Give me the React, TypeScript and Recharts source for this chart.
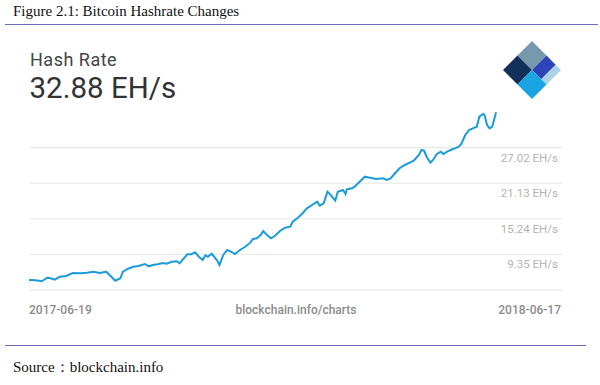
import React from "react";
import { CartesianGrid, Line, LineChart, XAxis, YAxis } from "recharts";

// Days since 2017-06-19 and hash rate (EH/s).
const days = [
  0, 5, 10, 14, 16, 20, 24, 29, 34, 40, 45, 50, 55, 60, 64, 67, 71, 73, 77, 81,
  85, 90, 93, 97, 100, 104, 107, 111, 115, 117, 123, 126, 129, 132, 135, 137, 139, 142, 146, 148,
  151, 154, 158, 160, 164, 168, 172, 174, 177, 180, 182, 185, 188, 191, 195, 199, 203, 205, 209, 213,
  216, 220, 224, 226, 229, 232, 234, 238, 240, 244, 246, 247, 251, 253, 257, 261, 265, 270, 275, 278,
  281, 284, 288, 292, 296, 299, 303, 305, 307, 309, 312, 314, 317, 320, 322, 325, 329, 331, 334, 336,
  339, 342, 345, 348, 350, 353, 354, 356, 358, 360, 363,
];
const hashRate = [
  5.11, 5.06, 4.9, 5.49, 5.45, 5.16, 5.66, 5.78, 6.27, 6.22, 6.32, 6.49, 6.27, 6.49, 5.66, 5.0, 5.4, 6.49, 6.98, 7.31,
  7.43, 7.76, 7.38, 7.65, 7.71, 7.93, 7.81, 8.14, 8.21, 7.88, 9.37, 9.37, 9.7, 8.97, 8.42, 9.2, 8.97, 9.47, 8.42, 7.6,
  9.25, 10.08, 9.7, 9.42, 10.08, 10.62, 11.29, 11.9, 12.01, 12.56, 13.22, 12.56, 12.01, 12.39, 13.22, 13.77, 13.93, 14.76, 15.42, 16.25,
  16.98, 17.52, 18.07, 17.41, 17.8, 19.72, 19.29, 18.23, 19.72, 20.01, 19.34, 20.12, 20.29, 20.55, 21.38, 22.21, 22.02, 21.83, 21.94, 21.66,
  21.94, 22.65, 23.6, 24.14, 24.52, 24.85, 25.8, 26.62, 26.51, 25.51, 24.52, 24.97, 25.96, 26.34, 25.96, 26.34, 26.74, 26.9, 27.17, 27.62,
  29.1, 29.93, 30.21, 30.48, 32.13, 32.58, 32.41, 30.76, 30.21, 30.48, 32.88,
];

const yTicks = [3.46, 9.35, 15.24, 21.13, 27.02];
const yMax = 32.91;
const xTicks = [0, 207.5, 415];
const xLabels = ["2017-06-19", "blockchain.info/charts", "2018-06-17"];

const data = days.map((d, i) => ({ day: d, rate: hashRate[i] }));

const chartFont = "Roboto, 'Noto Sans', sans-serif";
const serif = "'Liberation Serif', 'Times New Roman', serif";

function YTick(props: any) {
  const { x, y, payload } = props;
  if (payload.value === yTicks[0]) return <g />;
  return (
    <text x={x - 5} y={y + 14} textAnchor="end" fontSize={11.5} fill="#b3b3b3" fontFamily={chartFont}>
      {Number(payload.value).toFixed(2)} EH/s
    </text>
  );
}

function XTick(props: any) {
  const { x, y, index } = props;
  const last = index === xTicks.length - 1;
  const anchor = index === 0 ? "start" : last ? "end" : "middle";
  return (
    <text x={last ? x - 2 : x} y={y + 24} textAnchor={anchor} fontSize={12} fontWeight={500} fill="#8c8c8c" fontFamily={chartFont}>
      {xLabels[index]}
    </text>
  );
}

function Logo() {
  // blockchain diamond: a square cut in cells, turned 45 degrees
  return (
    <svg width={62} height={58} style={{ position: "absolute", left: 501, top: 41 }} viewBox="-31 -29 62 58">
      <g transform="rotate(45) translate(-20.5 -20.5)">
        <rect x={0} y={0} width={20.5} height={20.5} fill="#7898ad" />
        <rect x={0} y={20.5} width={20.5} height={20.5} fill="#13305a" />
        <rect x={20.5} y={0} width={13} height={20.5} fill="#2d44b8" />
        <rect x={33.5} y={0} width={7.5} height={20.5} fill="#a9d2e8" />
        <rect x={20.5} y={20.5} width={20.5} height={20.5} fill="#18a5e2" />
      </g>
    </svg>
  );
}

export default function App() {
  return (
    <div style={{ position: "fixed", left: 0, top: 0, width: 600, height: 385, background: "#fff", overflow: "hidden" }}>
      <div style={{ position: "absolute", left: 13, top: 3, fontFamily: serif, fontSize: 15, color: "#111" }}>
        Figure 2.1: Bitcoin Hashrate Changes
      </div>
      <div style={{ position: "absolute", left: 5, top: 24, width: 593, height: 1, background: "#6b6bbd" }} />
      <div style={{ position: "absolute", left: 30, top: 50.6, fontFamily: chartFont, fontSize: 18, lineHeight: "18px", letterSpacing: 0.5, color: "#444" }}>
        Hash Rate
      </div>
      <div style={{ position: "absolute", left: 29.5, top: 73.5, fontFamily: chartFont, fontSize: 29.5, lineHeight: "29.5px", color: "#333" }}>
        32.88 EH/s
      </div>
      <Logo />
      <div style={{ position: "absolute", left: 0, top: 0 }}>
        <LineChart width={600} height={385} data={data} margin={{ top: 112, right: 0, left: 29, bottom: 65 }}>
          <CartesianGrid horizontal vertical={false} stroke="#e6e6e6" horizontalValues={yTicks} />
          <XAxis
            dataKey="day"
            type="number"
            domain={[0, xTicks[2]]}
            ticks={xTicks}
            axisLine={false}
            tickLine={false}
            tickSize={0}
            tickMargin={0}
            height={30}
            tick={<XTick />}
            interval={0}
          />
          <YAxis
            orientation="right"
            width={37}
            type="number"
            domain={[yTicks[0], yMax]}
            ticks={yTicks}
            axisLine={false}
            tickLine={false}
            tickSize={0}
            tickMargin={0}
            tick={<YTick />}
            interval={0}
          />
          <Line type="linear" dataKey="rate" stroke="#1b9bd8" strokeWidth={2} dot={false} isAnimationActive={false} />
        </LineChart>
      </div>
      <div style={{ position: "absolute", left: 5, top: 345, width: 581, height: 1, background: "#6b6bbd" }} />
      <div style={{ position: "absolute", left: 13, top: 358, fontFamily: serif, fontSize: 15, color: "#111" }}>
        Source：blockchain.info
      </div>
    </div>
  );
}
